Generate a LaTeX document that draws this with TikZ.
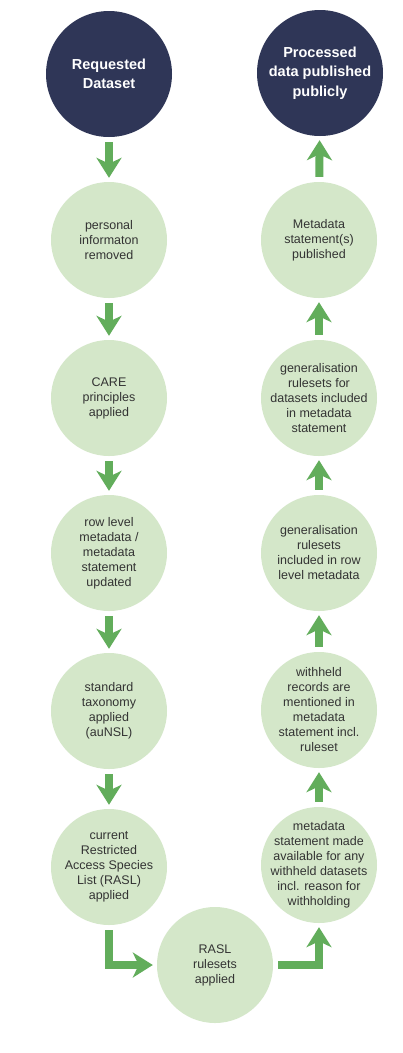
\documentclass[tikz,border=0pt]{standalone}
\usepackage{fontspec}
\setmainfont{Liberation Sans}
\usetikzlibrary{arrows.meta}
\definecolor{DataNavy}{HTML}{2F3657}
\definecolor{StageGreen}{HTML}{D4E7C9}
\definecolor{FlowGreen}{HTML}{62AD5B}
\definecolor{StageText}{HTML}{333333}

\begin{document}
\begin{tikzpicture}[x=1pt,y=-1pt,
    endpoint/.style={circle, fill=DataNavy, text=white, minimum size=126pt,
      inner sep=-20pt, align=center, font=\fontsize{14.5}{19.5}\selectfont\bfseries},
    stage/.style={circle, fill=StageGreen, text=StageText, minimum size=116pt,
      inner sep=-30pt, align=center, font=\fontsize{12.5}{15}\selectfont},
    flow/.style={draw=FlowGreen, line width=8pt, line join=miter,
      -{Stealth[width=25pt,length=20pt,inset=6pt]}, shorten <=5pt, shorten >=4pt}
  ]
  \fill[white] (0,0) rectangle (403,1053);
  \useasboundingbox (0,0) rectangle (403,1053);

  % left column, going down
  \node[endpoint] (req) at (109,74) {Requested\\Dataset};
  \node[stage] (pers) at (109,240) {personal\\informaton\\removed};
  \node[stage] (care) at (109,398) {CARE\\principles\\applied};
  \node[stage] (rowmeta) at (109,553) {row level\\metadata /\\metadata\\statement\\updated};
  \node[stage] (taxon) at (109,711) {standard\\taxonomy\\applied\\(auNSL)};
  \node[stage] (rasl) at (109,867) {current\\Restricted\\Access Species\\List (RASL)\\applied};

  % bottom
  \node[stage] (rules) at (215,965) {RASL\\rulesets\\applied};

  % right column, going up
  \node[stage] (avail) at (319,865) {metadata\\statement made\\available for any\\withheld datasets\\incl. reason for\\withholding};
  \node[stage] (withheld) at (319,710) {withheld\\records are\\mentioned in\\metadata\\statement incl.\\ruleset};
  \node[stage] (genrow) at (319,553) {generalisation\\rulesets\\included in row\\level metadata};
  \node[stage] (genset) at (319,398) {generalisation\\rulesets for\\datasets included\\in metadata\\statement};
  \node[stage] (pub) at (319,240) {Metadata\\statement(s)\\published};
  \node[endpoint] (done) at (320,73) {Processed\\data published\\publicly};

  \draw[flow] (req) -- (pers);
  \draw[flow] (pers) -- (care);
  \draw[flow] (care) -- (rowmeta);
  \draw[flow] (rowmeta) -- (taxon);
  \draw[flow] (taxon) -- (rasl);
  \draw[flow] (rasl) |- (rules);
  \draw[flow] (rules) -| (avail);
  \draw[flow] (avail) -- (withheld);
  \draw[flow] (withheld) -- (genrow);
  \draw[flow] (genrow) -- (genset);
  \draw[flow] (genset) -- (pub);
  \draw[flow] (pub) -- (done);
\end{tikzpicture}
\end{document}
